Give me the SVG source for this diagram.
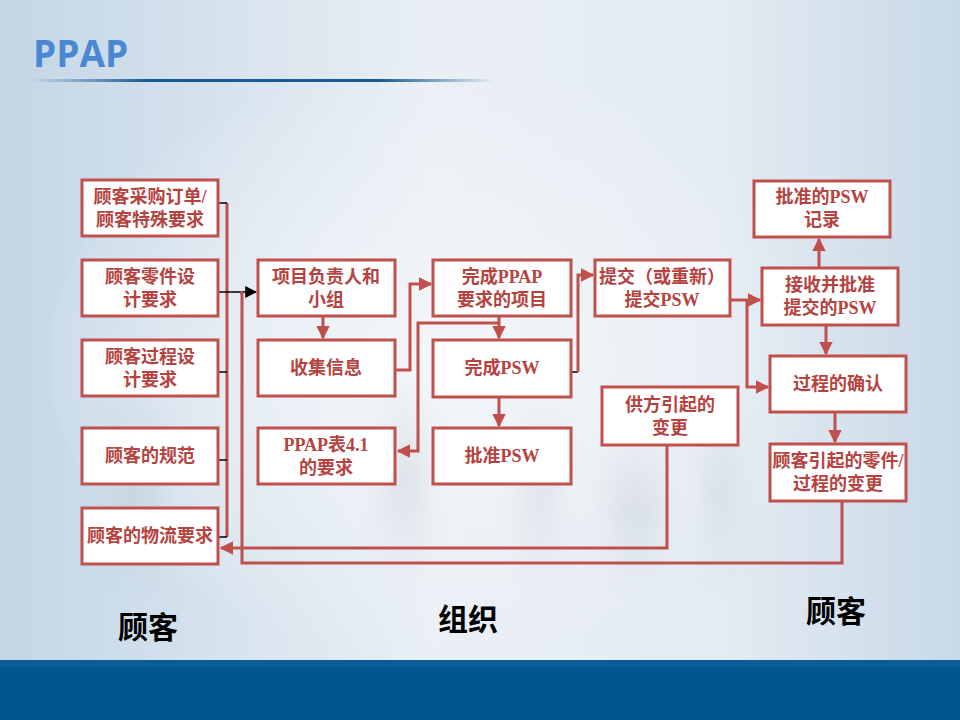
<svg xmlns="http://www.w3.org/2000/svg" width="960" height="720" viewBox="0 0 960 720">
<defs>
<linearGradient id="bg" x1="0" y1="0" x2="1" y2="0">
<stop offset="0" stop-color="#c3d6e6"/>
<stop offset="0.45" stop-color="#e9eff5"/>
<stop offset="0.75" stop-color="#e4ebf2"/>
<stop offset="1" stop-color="#c8d9e8"/>
</linearGradient>
<radialGradient id="glow" cx="0.45" cy="0.5" r="0.5">
<stop offset="0" stop-color="#f4f7fa" stop-opacity="0.9"/>
<stop offset="1" stop-color="#f4f7fa" stop-opacity="0"/>
</radialGradient>
<linearGradient id="rule" x1="0" y1="0" x2="1" y2="0">
<stop offset="0" stop-color="#1f5f9a" stop-opacity="0"/>
<stop offset="0.25" stop-color="#1a5a94"/>
<stop offset="0.75" stop-color="#1a5a94"/>
<stop offset="1" stop-color="#1f5f9a" stop-opacity="0"/>
</linearGradient>
<linearGradient id="shade" x1="0" y1="0" x2="0" y2="1">
<stop offset="0" stop-color="#9aa4ae" stop-opacity="0"/>
<stop offset="0.5" stop-color="#9aa4ae" stop-opacity="0.3"/>
<stop offset="1" stop-color="#9aa4ae" stop-opacity="0"/>
</linearGradient>
<filter id="blur" x="-1" y="-0.5" width="3" height="2"><feGaussianBlur stdDeviation="14"/></filter>
<marker id="ar" viewBox="0 0 10 10" refX="9" refY="5" markerWidth="4.5" markerHeight="4.5" orient="auto-start-reverse" markerUnits="strokeWidth">
<path d="M0,0 L10,5 L0,10 z" fill="#c0504d"/>
</marker>
<marker id="ab" viewBox="0 0 10 10" refX="9" refY="5" markerWidth="8" markerHeight="8" orient="auto" markerUnits="strokeWidth">
<path d="M0,0 L10,5 L0,10 z" fill="#000"/>
</marker>
<style>
.box{fill:#fff;stroke:#c0504d;stroke-width:3}
.t{font-family:"Liberation Serif","Noto Sans CJK SC",serif;font-weight:bold;font-size:18px;fill:#b5433f;text-anchor:middle}
.c{fill:none;stroke:#c0504d;stroke-width:3}
.k{fill:none;stroke:#000;stroke-width:1.5}
.lab{font-family:"Noto Sans CJK SC",sans-serif;font-weight:bold;font-size:30px;fill:#000;text-anchor:middle}
</style>
</defs>
<rect width="960" height="720" fill="url(#bg)"/>
<ellipse cx="470" cy="360" rx="420" ry="300" fill="url(#glow)"/>
<g filter="url(#blur)" opacity="0.7">
<rect x="110" y="390" width="50" height="200" fill="url(#shade)"/>
<rect x="385" y="370" width="40" height="220" fill="url(#shade)"/>
<rect x="525" y="390" width="30" height="200" fill="url(#shade)"/>
<rect x="610" y="430" width="50" height="160" fill="url(#shade)"/>
<rect x="705" y="390" width="30" height="200" fill="url(#shade)"/>
</g>
<text x="33" y="67" font-family="'Open Sans','Liberation Sans',sans-serif" font-weight="bold" font-size="37" fill="#4a88d2">PPAP</text>
<rect x="30" y="79" width="465" height="3" fill="url(#rule)"/>
<rect x="0" y="660" width="960" height="60" fill="#01568f"/>
<rect x="0" y="660" width="960" height="7" fill="#0a5d96"/>

<g id="connectors">
<path class="c" d="M227,203 V537"/>
<path class="k" d="M218,203 H227" stroke-width="3"/>
<path class="k" d="M218,372 H227"/>
<path class="k" d="M218,460 H227"/>
<path class="k" d="M218,537 H227"/>
<path class="k" d="M218,292 H256" marker-end="url(#ab)"/>
<path class="c" d="M240,293 H242 V563 H842 V502"/>
<path class="c" d="M323,316 V338" marker-end="url(#ar)"/>
<path class="c" d="M396,370 H410 V284 H431" marker-end="url(#ar)"/>
<path class="c" d="M499,316 V338" marker-end="url(#ar)"/>
<path class="c" d="M499,323 H418 V451 H398" marker-end="url(#ar)"/>
<path class="c" d="M499,398 V426" marker-end="url(#ar)"/>
<path class="k" d="M572,372 H578"/>
<path class="c" d="M578,372 V275 H593" marker-end="url(#ar)"/>
<path class="c" d="M731,300 H760" marker-end="url(#ar)"/>
<path class="c" d="M747,300 V387 H768" marker-end="url(#ar)"/>
<path class="c" d="M819,267 V239" marker-end="url(#ar)"/>
<path class="c" d="M826,326 V354" marker-end="url(#ar)"/>
<path class="c" d="M835,413 V442" marker-end="url(#ar)"/>
<path class="c" d="M667,446 V548 H221" marker-end="url(#ar)"/>
</g>

<g id="n1"><rect class="box" x="82" y="180" width="136" height="56"/><text class="t" x="150" y="203">顾客采购订单/</text><text class="t" x="150" y="226">顾客特殊要求</text></g>
<g id="n2"><rect class="box" x="82" y="260" width="136" height="56"/><text class="t" x="150" y="283">顾客零件设</text><text class="t" x="150" y="306">计要求</text></g>
<g id="n3"><rect class="box" x="82" y="340" width="136" height="56"/><text class="t" x="150" y="363">顾客过程设</text><text class="t" x="150" y="386">计要求</text></g>
<g id="n4"><rect class="box" x="82" y="428" width="136" height="56"/><text class="t" x="150" y="462">顾客的规范</text></g>
<g id="n5"><rect class="box" x="82" y="508" width="136" height="56"/><text class="t" x="150" y="542">顾客的物流要求</text></g>

<g id="n6"><rect class="box" x="258" y="260" width="137" height="56"/><text class="t" x="326" y="283">项目负责人和</text><text class="t" x="326" y="306">小组</text></g>
<g id="n7"><rect class="box" x="258" y="340" width="137" height="56"/><text class="t" x="326" y="374">收集信息</text></g>
<g id="n8"><rect class="box" x="258" y="428" width="137" height="56"/><text class="t" x="326" y="451">PPAP表4.1</text><text class="t" x="326" y="474">的要求</text></g>

<g id="n9"><rect class="box" x="433" y="260" width="138" height="56"/><text class="t" x="502" y="283">完成PPAP</text><text class="t" x="502" y="306">要求的项目</text></g>
<g id="n10"><rect class="box" x="433" y="340" width="138" height="57"/><text class="t" x="502" y="374">完成PSW</text></g>
<g id="n11"><rect class="box" x="433" y="428" width="138" height="56"/><text class="t" x="502" y="462">批准PSW</text></g>

<g id="n12"><rect class="box" x="595" y="260" width="135" height="56"/><text class="t" x="662" y="283">提交（或重新）</text><text class="t" x="662" y="306">提交PSW</text></g>
<g id="n13"><rect class="box" x="602" y="387" width="136" height="58"/><text class="t" x="670" y="411">供方引起的</text><text class="t" x="670" y="434">变更</text></g>

<g id="n14"><rect class="box" x="754" y="181" width="136" height="56"/><text class="t" x="822" y="203">批准的PSW</text><text class="t" x="822" y="226">记录</text></g>
<g id="n15"><rect class="box" x="762" y="268" width="136" height="57"/><text class="t" x="830" y="291">接收并批准</text><text class="t" x="830" y="314">提交的PSW</text></g>
<g id="n16"><rect class="box" x="770" y="356" width="136" height="56"/><text class="t" x="838" y="390">过程的确认</text></g>
<g id="n17"><rect class="box" x="770" y="444" width="136" height="57"/><text class="t" x="838" y="467">顾客引起的零件/</text><text class="t" x="838" y="490">过程的变更</text></g>

<text class="lab" x="148" y="638">顾客</text>
<text class="lab" x="468" y="630">组织</text>
<text class="lab" x="836" y="622">顾客</text>
</svg>
